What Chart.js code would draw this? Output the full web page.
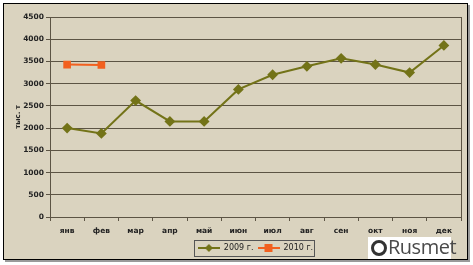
<!DOCTYPE html>
<html>
<head>
<meta charset="utf-8">
<script src="https://cdn.jsdelivr.net/npm/chart.js@4.4.1/dist/chart.umd.min.js"></script>
<style>
  html, body { margin: 0; padding: 0; background: #ffffff; width: 473px; height: 265px; overflow: hidden; }
  #frame { position: absolute; left: 3px; top: 3px; width: 463px; height: 255px; border: 1px solid #000;
           background: #dad3bf; box-shadow: 2px 2px 0 #9a9a9a; }
  #frame canvas { position: absolute; left: 0; top: 0; }
  #logo { position: absolute; left: 368px; top: 237px; width: 83px; height: 22px; background: #fff;
          font-family: "Open Sans", "DejaVu Sans", sans-serif; color: #4a4a4a; }
  #logo .ring { position: absolute; left: 3px; top: 3px; width: 10px; height: 10px; border: 3px solid #333; border-radius: 50%; }
  #logo .word { position: absolute; left: 20px; top: -4px; font-size: 20px; letter-spacing: -0.5px; }
</style>
</head>
<body>
<div id="frame"><canvas id="c" width="463" height="255"></canvas></div>
<div id="logo"><div class="ring"></div><div class="word">Rusmet</div></div>
<script>
const months = ["янв","фев","мар","апр","май","июн","июл","авг","сен","окт","ноя","дек"];
const series2009 = [2000, 1880, 2620, 2150, 2150, 2870, 3200, 3390, 3570, 3430, 3250, 3860];
const series2010 = [3430, 3420, null, null, null, null, null, null, null, null, null, null];
const seriesNames = ["2009 г.", "2010 г."];
const yAxisTitle = "тыс. т";

const C2009 = "#737318";
const C2010 = "#f2601f";

function legendIcon(color, shape) {
  const cv = document.createElement("canvas");
  cv.width = 22; cv.height = 10;
  const g = cv.getContext("2d");
  g.strokeStyle = color; g.lineWidth = 2;
  g.beginPath(); g.moveTo(0, 5); g.lineTo(22, 5); g.stroke();
  g.fillStyle = color;
  if (shape === "diamond") {
    g.beginPath(); g.moveTo(11, 1); g.lineTo(15, 5); g.lineTo(11, 9); g.lineTo(7, 5); g.closePath(); g.fill();
  } else {
    g.fillRect(7, 1, 8, 8);
  }
  return cv;
}
const icons = [legendIcon(C2009, "diamond"), legendIcon(C2010, "square")];

const frameBorder = {
  id: "frameBorder",
  afterDraw(chart) {
    const ctx = chart.ctx, a = chart.chartArea;
    ctx.save();
    ctx.strokeStyle = "#5c5444"; ctx.lineWidth = 1;
    ctx.beginPath();
    ctx.moveTo(Math.round(a.right) + 0.5, a.top); ctx.lineTo(Math.round(a.right) + 0.5, a.bottom);
    ctx.stroke();
    const lg = chart.legend;
    const h0 = lg.legendHitBoxes[0], h1 = lg.legendHitBoxes[1];
    ctx.strokeStyle = "#555";
    ctx.strokeRect(Math.round(h0.left) - 3.5, Math.round(h0.top + h0.height / 2) - 7.5,
      Math.round(h1.left + h1.width - h0.left) + 5, 16);
    ctx.restore();
  }
};

new Chart(document.getElementById("c"), {
  type: "line",
  data: {
    labels: months,
    datasets: [
      { label: seriesNames[0], data: series2009, borderColor: C2009, backgroundColor: C2009,
        borderWidth: 2, pointStyle: "rectRot", pointRadius: 4, pointHoverRadius: 4, tension: 0 },
      { label: seriesNames[1], data: series2010, borderColor: C2010, backgroundColor: C2010,
        borderWidth: 2, pointStyle: "rect", pointRadius: 4, pointHoverRadius: 4, tension: 0, spanGaps: false }
    ]
  },
  options: {
    responsive: false,
    animation: false,
    devicePixelRatio: 1,
    layout: { padding: { top: 13, right: 5, bottom: -3, left: 0 } },
    plugins: {
      tooltip: { enabled: false },
      legend: {
        position: "bottom",
        fullSize: false,
        labels: {
          font: { family: "DejaVu Sans", size: 8 },
          color: "#222",
          usePointStyle: true,
          pointStyleWidth: 22,
          padding: 4,
          boxWidth: 22,
          boxHeight: 10,
          generateLabels(chart) {
            return chart.data.datasets.map((d, i) => ({
              text: d.label, pointStyle: icons[i], fillStyle: d.borderColor, strokeStyle: d.borderColor,
              lineWidth: 0, hidden: false, datasetIndex: i, fontColor: "#222"
            }));
          }
        }
      }
    },
    scales: {
      x: {
        offset: true,
        grid: { display: true, drawOnChartArea: false, drawTicks: true, tickLength: 4, offset: true, color: "#5c5444" },
        border: { display: true, color: "#5c5444", width: 1 },
        ticks: { color: "#222", font: { family: "DejaVu Sans", size: 7.5, weight: "bold" }, padding: 6, maxRotation: 0, autoSkip: false },
        afterFit(s) { s.height = 23; }
      },
      y: {
        min: 0, max: 4500,
        grid: { color: "#5c5444", lineWidth: 1, tickLength: 4, drawTicks: true },
        border: { display: true, color: "#5c5444", width: 1 },
        ticks: { stepSize: 500, color: "#222", font: { family: "DejaVu Sans", size: 7.5, weight: "bold" }, padding: 2,
                 callback: (v) => String(v) },
        title: { display: true, text: yAxisTitle, color: "#222", font: { family: "DejaVu Sans", size: 7, weight: "bold" }, padding: { top: 10, bottom: 0 } },
        afterFit(s) { s.width = 46; }
      }
    }
  },
  plugins: [frameBorder]
});
</script>
</body>
</html>
